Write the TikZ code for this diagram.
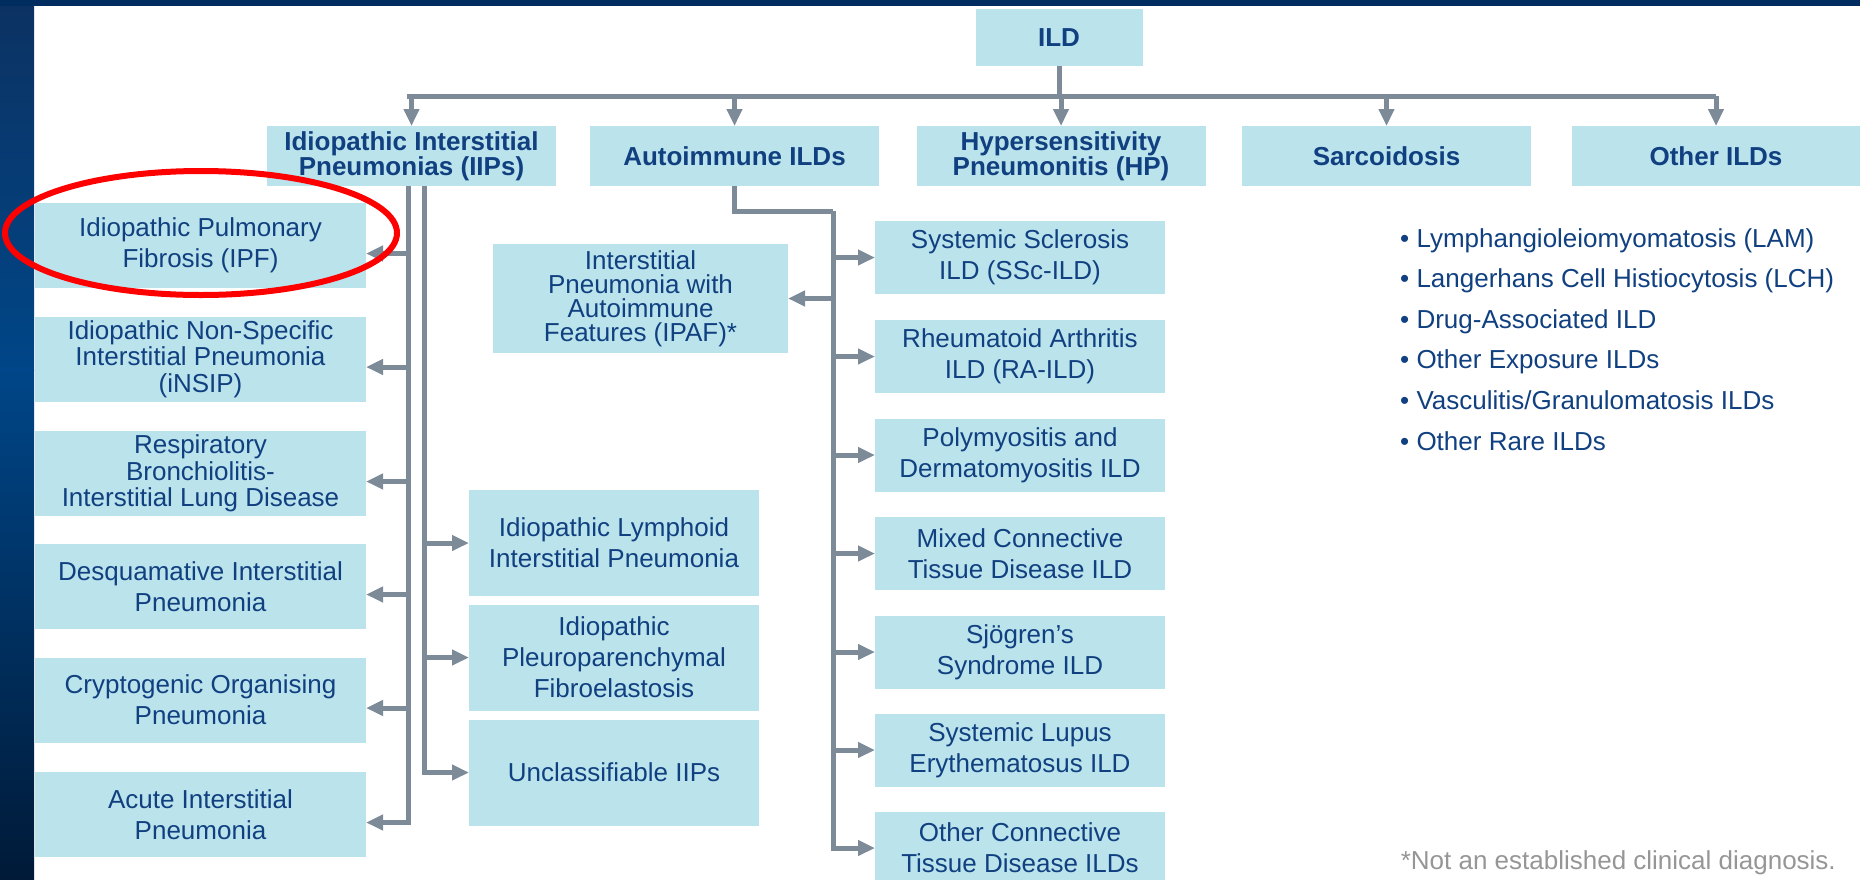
\documentclass[tikz,border=0pt]{standalone}
\usepackage{fontspec}
\setmainfont{Liberation Sans}
\usetikzlibrary{arrows.meta, calc}
\definecolor{navy}{RGB}{0,45,95}
\definecolor{bandtop}{RGB}{12,50,98}
\definecolor{bandmid}{RGB}{0,70,136}
\definecolor{bandbot}{RGB}{0,26,56}
\definecolor{boxfill}{RGB}{187,227,236}
\definecolor{ildblue}{RGB}{16,64,128}
\definecolor{linegray}{RGB}{125,138,152}
\definecolor{notegray}{RGB}{150,150,150}

\tikzset{
  box/.style={fill=boxfill, text=ildblue, align=center, inner sep=1pt, outer sep=0pt,
    font=\fontsize{26}{31}\selectfont},
  head/.style={box, minimum width=289pt, minimum height=60pt,
    font=\bfseries\fontsize{26}{25}\selectfont},
  leftbox/.style={box, minimum width=331pt, minimum height=85pt},
  midbox/.style={box, minimum width=290pt, minimum height=106pt},
  rightbox/.style={box, minimum width=290pt, minimum height=73pt},
  conn/.style={draw=linegray, line width=5pt},
  arr/.style={conn, -{Triangle[width=15pt,length=17pt]}},
  bulletline/.style={text=ildblue, anchor=base west, inner sep=0pt,
    font=\fontsize{26}{31}\selectfont},
}

\begin{document}
\begin{tikzpicture}[x=1pt, y=-1pt]
  \useasboundingbox (0,0) rectangle (1860,879);
  % frame
  \shade[top color=bandtop, bottom color=bandmid] (0,0) rectangle (34,370);
  \shade[top color=bandmid, bottom color=bandbot] (0,370) rectangle (34,879);
  \fill[navy] (0,0) rectangle (1860,6);

  % top levels
  \node[box, minimum width=167pt, minimum height=57pt, font=\bfseries\fontsize{26}{31}\selectfont]
    (ild) at (1059,37.5) {ILD};
  \node[head] (iip) at (411.5,156) {Idiopathic Interstitial\\Pneumonias (IIPs)};
  \node[head] (auto) at (734.5,156) {Autoimmune ILDs};
  \node[head] (hp) at (1061,156) {Hypersensitivity\\Pneumonitis (HP)};
  \node[head] (sarc) at (1386.5,156) {Sarcoidosis};
  \node[head] (other) at (1716,156) {Other ILDs};

  % IIPs
  \node[leftbox] (ipf) at (200.5,245.5) {Idiopathic Pulmonary\\Fibrosis (IPF)};
  \node[leftbox, font=\fontsize{26}{26.5}\selectfont] (nsip) at (200.5,359)
    {Idiopathic Non-Specific\\Interstitial Pneumonia\\(iNSIP)};
  \node[leftbox, font=\fontsize{26}{26.5}\selectfont] (rbild) at (200.5,473.5)
    {Respiratory\\Bronchiolitis-\\Interstitial Lung Disease};
  \node[leftbox] (dip) at (200.5,586.5) {Desquamative Interstitial\\Pneumonia};
  \node[leftbox] (cop) at (200.5,700) {Cryptogenic Organising\\Pneumonia};
  \node[leftbox] (aip) at (200.5,814.5) {Acute Interstitial\\Pneumonia};
  \node[midbox] (lip) at (614,543) {Idiopathic Lymphoid\\Interstitial Pneumonia};
  \node[midbox] (ppfe) at (614,657.5) {Idiopathic\\Pleuroparenchymal\\Fibroelastosis};
  \node[midbox] (unclass) at (614,772.5) {Unclassifiable IIPs};

  % autoimmune
  \node[box, minimum width=295pt, minimum height=109pt, font=\fontsize{26}{24}\selectfont]
    (ipaf) at (640.5,298.5) {Interstitial\\Pneumonia with\\Autoimmune\\Features (IPAF)*};
  \node[rightbox] (ssc) at (1020,257.5) {Systemic Sclerosis\\ILD (SSc-ILD)};
  \node[rightbox] (ra) at (1020,356.5) {Rheumatoid Arthritis\\ILD (RA-ILD)};
  \node[rightbox] (pmdm) at (1020,455) {Polymyositis and\\Dermatomyositis ILD};
  \node[rightbox] (mctd) at (1020,553.5) {Mixed Connective\\Tissue Disease ILD};
  \node[rightbox] (sjs) at (1020,652) {Sjögren’s\\Syndrome ILD};
  \node[rightbox] (sle) at (1020,750) {Systemic Lupus\\Erythematosus ILD};
  \node[rightbox] (octd) at (1020,848) {Other Connective\\Tissue Disease ILDs};

  % other ILDs
  \foreach \t [count=\i] in {{Lymphangioleiomyomatosis (LAM)}, {Langerhans Cell Histiocytosis (LCH)},
      {Drug-Associated ILD}, {Other Exposure ILDs}, {Vasculitis/Granulomatosis ILDs}, {Other Rare ILDs}}
    \node[bulletline] (b\i) at (1400,{247+40.6*(\i-1)}) {\textbullet\ \t};
  \node[anchor=base east, inner sep=0pt, text=notegray, font=\fontsize{26}{31}\selectfont]
    (note) at (1836,869) {*Not an established clinical diagnosis.};

  % connectors
  \coordinate (bus) at (0,96);
  \draw[conn] (ild.south) -- (ild.south |- bus);
  \draw[conn] ([xshift=-4.5pt]iip.north |- bus) -- (other.north |- bus);
  \foreach \n in {iip,auto,hp,sarc,other}
    \draw[arr] (\n.north |- bus) -- (\n.north);

  \coordinate (lbar) at ([xshift=-3.5pt]iip.south);
  \coordinate (rbar) at ([xshift=12.5pt]iip.south);
  \draw[arr] (lbar) |- ([yshift=-8pt]aip.east);
  \foreach \n in {ipf,nsip,rbild,dip,cop}
    \draw[arr] ([yshift=-8pt]lbar |- \n.east) -- ([yshift=-8pt]\n.east);
  \draw[arr] (rbar) |- (unclass.west);
  \foreach \n in {lip,ppfe}
    \draw[arr] (rbar |- \n.west) -- (\n.west);

  \coordinate (abar) at (833,211);
  \draw[conn] (auto.south) |- (abar);
  \draw[arr] (abar) |- (octd.west);
  \foreach \n in {ssc,ra,pmdm,mctd,sjs,sle}
    \draw[arr] (abar |- \n.west) -- (\n.west);
  \draw[arr] (abar |- ipaf.east) -- (ipaf.east);

  % highlight
  \draw[red, line width=6pt] (201,233) ellipse [x radius=196, y radius=62];
\end{tikzpicture}
\end{document}
